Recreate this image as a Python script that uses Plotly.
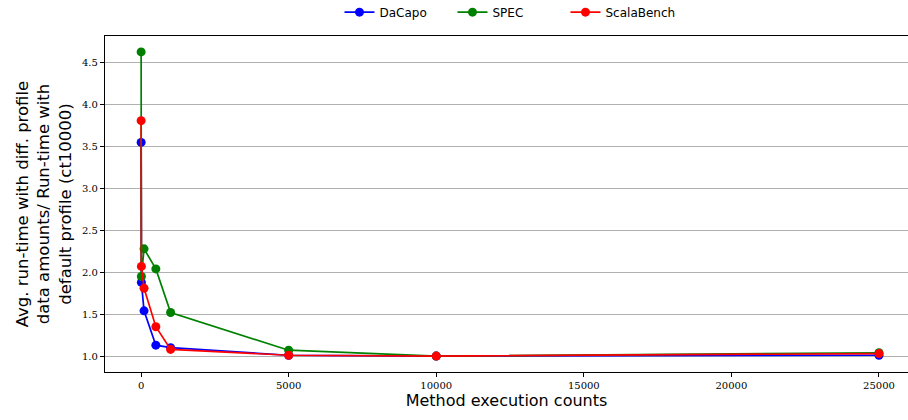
import plotly.graph_objects as go

counts = [1, 10, 100, 500, 1000, 5000, 10000, 25000]
dacapo = [3.55, 1.88, 1.54, 1.13, 1.10, 1.01, 1.00, 1.01]
spec = [4.63, 1.95, 2.28, 2.04, 1.52, 1.07, 1.00, 1.04]
scalabench = [3.81, 2.07, 1.81, 1.35, 1.08, 1.01, 1.00, 1.03]

series = [("DaCapo", dacapo, "blue"), ("SPEC", spec, "green"), ("ScalaBench", scalabench, "red")]

fig = go.Figure()
for name, vals, col in series:
    fig.add_trace(go.Scatter(x=counts, y=vals, mode="lines+markers", name=name,
                             line=dict(color=col, width=1.7),
                             marker=dict(color=col, size=9)))

tickfont = dict(family="DejaVu Serif", size=10, color="black")
fig.update_layout(
    width=908, height=420,
    margin=dict(l=105, r=0, t=36, b=48, autoexpand=False),
    plot_bgcolor="white", paper_bgcolor="white",
    showlegend=True,
    legend=dict(orientation="h", x=0.292, xanchor="left", y=1.071, yanchor="middle",
                font=dict(family="DejaVu Sans", size=12, color="black"),
                entrywidth=68, entrywidthmode="pixels",
                bgcolor="rgba(0,0,0,0)"),
    xaxis=dict(range=[-1223, 25984], tickvals=[0, 5000, 10000, 15000, 20000, 25000],
               ticktext=["0", "5000", "10000", "15000", "20000", "25000"],
               showgrid=False, zeroline=False, showline=True, linecolor="black", linewidth=1.2,
               mirror=True, ticks="outside", ticklen=4, tickcolor="black", tickfont=tickfont,
               title=dict(text="Method execution counts", standoff=4,
                          font=dict(family="DejaVu Sans", size=16, color="black"))),
    yaxis=dict(range=[0.81, 4.82], tickvals=[1.0, 1.5, 2.0, 2.5, 3.0, 3.5, 4.0, 4.5],
               ticktext=["1.0", "1.5", "2.0", "2.5", "3.0", "3.5", "4.0", "4.5"],
               showgrid=True, gridcolor="#b0b0b0", gridwidth=1, zeroline=False,
               showline=True, linecolor="black", linewidth=1.2, mirror=False,
               ticks="outside", ticklen=4, tickcolor="black", tickfont=tickfont,
               title=dict(text="Avg. run-time with diff. profile<br>data amounts/ Run-time with<br>default profile (ct10000)",
                          standoff=6, font=dict(family="DejaVu Sans", size=16.5, color="black"))),
)

fig.write_html("out.html")
